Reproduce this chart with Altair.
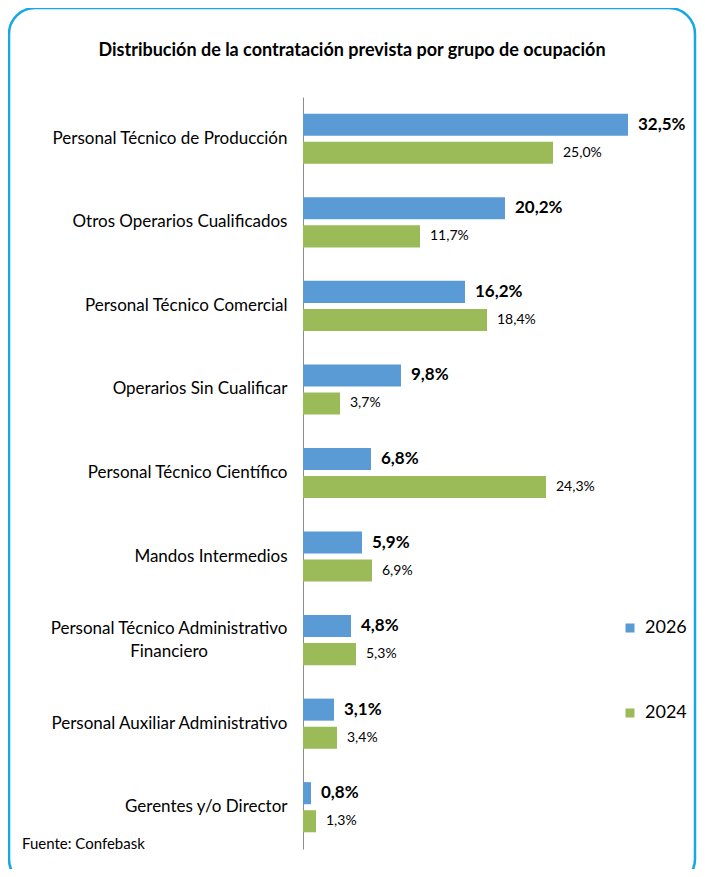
import altair as alt
import pandas as pd

categories = [
    "Personal Técnico de Producción",
    "Otros Operarios Cualificados",
    "Personal Técnico Comercial",
    "Operarios Sin Cualificar",
    "Personal Técnico Científico",
    "Mandos Intermedios",
    "Personal Técnico Administrativo Financiero",
    "Personal Auxiliar Administrativo",
    "Gerentes y/o Director",
]
values_2026 = [32.5, 20.2, 16.2, 9.8, 6.8, 5.9, 4.8, 3.1, 0.8]
values_2024 = [25.0, 11.7, 18.4, 3.7, 24.3, 6.9, 5.3, 3.4, 1.3]
series = ["2026", "2024"]
colors = ["#5B9BD5", "#9BBB59"]
title_text = "Distribución de la contratación prevista por grupo de ocupación"
source_text = "Fuente: Confebask"
wrap_cat = "Personal Técnico Administrativo Financiero"
wrap_first = "Personal Técnico Administrativo"
wrap_second = "Financiero"

rows = []
for c, a, b in zip(categories, values_2026, values_2024):
    rows.append({"cat": c, "year": "2026", "v": a})
    rows.append({"cat": c, "year": "2024", "v": b})
df = pd.DataFrame(rows)
df["lab"] = df["v"].map(lambda x: f"{x:.1f}".replace(".", ",") + "%")

FONT = "Lato"
label_expr = f"datum.value == '{wrap_cat}' ? '' : datum.label"

yenc = alt.Y(
    "cat:N",
    sort=categories,
    scale=alt.Scale(paddingInner=0.4, paddingOuter=0.2),
    axis=alt.Axis(
        title=None, ticks=False, grid=False, domain=True, domainColor="#8c8c8c",
        labelFont=FONT, labelFontSize=17, labelColor="#000000", labelPadding=16,
        labelLimit=320, labelExpr=label_expr,
    ),
)
xenc = alt.X("v:Q", scale=alt.Scale(domain=[0, 36]), axis=None)
yoff = alt.YOffset("year:N", sort=series, scale=alt.Scale(paddingInner=0.214))

base = alt.Chart(df)

bars = base.mark_bar().encode(
    y=yenc, x=xenc, yOffset=yoff,
    color=alt.Color(
        "year:N",
        scale=alt.Scale(domain=series, range=colors),
        legend=alt.Legend(
            title=None, orient="none", legendX=318, legendY=522,
            symbolType="square", symbolSize=81, symbolStrokeWidth=0,
            labelFont=FONT, labelFontSize=18, labelColor="#000000",
            rowPadding=67, labelOffset=6,
        ),
    ),
)

txt26 = base.transform_filter(alt.datum.year == "2026").mark_text(
    align="left", baseline="middle", dx=10, font=FONT, fontSize=17,
    fontWeight="bold", color="#000000",
).encode(y=yenc, x=xenc, yOffset=yoff, text="lab:N")

txt24 = base.transform_filter(alt.datum.year == "2024").mark_text(
    align="left", baseline="middle", dx=10, font=FONT, fontSize=14,
    color="#000000",
).encode(y=yenc, x=xenc, yOffset=yoff, text="lab:N")

wrap_df = pd.DataFrame({"cat": [wrap_cat], "t1": [wrap_first], "t2": [wrap_second]})
wrap_line1 = alt.Chart(wrap_df).mark_text(
    align="center", baseline="middle", dy=-11.5, font=FONT, fontSize=17, color="#000000",
).encode(y=yenc, x=alt.value(-134), text="t1:N")
wrap_line2 = alt.Chart(wrap_df).mark_text(
    align="center", baseline="middle", dy=11.5, font=FONT, fontSize=17, color="#000000",
).encode(y=yenc, x=alt.value(-134), text="t2:N")

source = alt.Chart(pd.DataFrame({"t": [source_text]})).mark_text(
    align="left", baseline="middle", font=FONT, fontSize=15, color="#000000",
).encode(x=alt.value(-281), y=alt.value(747), text="t:N")

title = alt.Chart(pd.DataFrame({"t": [title_text]})).mark_text(
    align="center", baseline="middle", font=FONT, fontSize=18,
    fontWeight="bold", color="#000000",
).encode(x=alt.value(49), y=alt.value(-46), text="t:N")

border = alt.Chart(pd.DataFrame({"a": [0]})).mark_rect(
    fill=None, stroke="#14A9E6", strokeWidth=2.5, cornerRadius=26,
).encode(x=alt.value(-294), x2=alt.value(392), y=alt.value(-89), y2=alt.value(788))

chart = alt.layer(
    border, bars, txt26, txt24, wrap_line1, wrap_line2, source, title
).properties(
    width=360, height=752,
    padding={"left": 295, "top": 89, "right": 34, "bottom": 20},
    autosize=alt.AutoSizeParams(type="none"),
).configure_view(stroke=None)

chart.save("out.html", embed_options={"renderer": "svg", "actions": False})
